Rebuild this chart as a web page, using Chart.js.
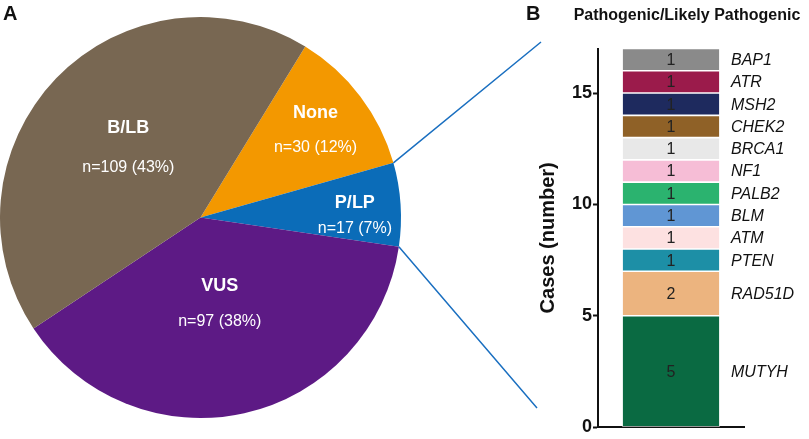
<!DOCTYPE html>
<html>
<head>
<meta charset="utf-8">
<script src="https://cdn.jsdelivr.net/npm/chart.js@4.4.0/dist/chart.umd.min.js"></script>
<style>
  body { margin: 0; background: #fff; font-family: "Liberation Sans", Arial, sans-serif; }
  #wrap { position: relative; width: 809px; height: 439px; overflow: hidden; }
  .box { position: absolute; }
  .letter { position: absolute; font-weight: bold; font-size: 20px; line-height: 1; color: #111; }
  #bar-title { position: absolute; top: 6px; left: 560px; width: 254px; text-align: center;
               font-weight: bold; font-size: 16px; line-height: 18px; color: #111; }
</style>
</head>
<body>
<div id="wrap">
  <div class="box" style="left:0;top:0;width:545px;height:439px;"><canvas id="pie"></canvas></div>
  <div class="box" style="left:530px;top:0;width:279px;height:439px;"><canvas id="bar"></canvas></div>
  <div class="letter" style="left:3px;top:3px;">A</div>
  <div class="letter" style="left:526px;top:3px;">B</div>
  <div id="bar-title">Pathogenic/Likely Pathogenic</div>
</div>
<script>
// Panel A: variant classes
const pie_labels = ['None', 'P/LP', 'VUS', 'B/LB'];
const pie_values = [30, 17, 97, 109];
const pie_colors = ['#f39800', '#0b6cb8', '#5d1a85', '#786752'];

// Panel B: P/LP genes, from bottom to top
const gene_labels = ['MUTYH', 'RAD51D', 'PTEN', 'ATM', 'BLM', 'PALB2', 'NF1', 'BRCA1', 'CHEK2', 'MSH2', 'ATR', 'BAP1'];
const gene_values = [5, 2, 1, 1, 1, 1, 1, 1, 1, 1, 1, 1];
const gene_colors = ['#0a6a42', '#ecb47f', '#1d8fa6', '#fde1e1', '#6096d4', '#2bb36f',
                     '#f6bdd6', '#e8e8e8', '#8f6127', '#1e2a5e', '#9b1b4b', '#8a8a8a'];
const y_ticks = [0, 5, 10, 15];

const pie_total = pie_values.reduce((a, b) => a + b, 0);

// where the text sits inside each slice (fraction of radius, angle shift in degrees, half gap between lines)
const label_radius = [0.72, 0.77, 0.44, 0.5];
const label_shift = [0, 3, 0, 0];
const label_gap = [17, 13, 18, 20];


// Write the labels inside the pie and the two lines to panel B
const pie_text = {
    id: 'pie_text',
    afterDraw(chart) {
        const ctx = chart.ctx;
        const arcs = chart.getDatasetMeta(0).data;

        ctx.save();
        ctx.fillStyle = '#fff';
        ctx.textAlign = 'center';
        ctx.textBaseline = 'middle';

        arcs.forEach((arc, i) => {
            const mid = (arc.startAngle + arc.endAngle) / 2 + label_shift[i] * Math.PI / 180;
            const r = arc.outerRadius * label_radius[i];
            const x = arc.x + Math.cos(mid) * r;
            const y = arc.y + Math.sin(mid) * r;
            const pct = Math.round(pie_values[i] / pie_total * 100);

            ctx.font = 'bold 18px "Liberation Sans", Arial, sans-serif';
            ctx.fillText(pie_labels[i], x, y - label_gap[i]);
            ctx.font = '16px "Liberation Sans", Arial, sans-serif';
            ctx.fillText(`n=${pie_values[i]} (${pct}%)`, x, y + label_gap[i]);
        });

        // Lines from the P/LP slice to the bar
        const plp = arcs[1];
        ctx.strokeStyle = '#1a6fc0';
        ctx.lineWidth = 1.5;
        ctx.beginPath();
        ctx.moveTo(plp.x + Math.cos(plp.startAngle) * plp.outerRadius, plp.y + Math.sin(plp.startAngle) * plp.outerRadius);
        ctx.lineTo(541, 42);
        ctx.moveTo(plp.x + Math.cos(plp.endAngle) * plp.outerRadius, plp.y + Math.sin(plp.endAngle) * plp.outerRadius);
        ctx.lineTo(537, 408);
        ctx.stroke();
        ctx.restore();
    }
};


// Write the counts inside the bar and the gene names next to it
const bar_text = {
    id: 'bar_text',
    afterDatasetsDraw(chart) {
        const ctx = chart.ctx;
        ctx.save();
        ctx.textBaseline = 'middle';

        chart.data.datasets.forEach((ds, i) => {
            const bar = chart.getDatasetMeta(i).data[0];
            const y = (bar.y + bar.base) / 2;

            ctx.fillStyle = '#222';
            ctx.textAlign = 'center';
            ctx.font = '16px "Liberation Sans", Arial, sans-serif';
            ctx.fillText(String(gene_values[i]), bar.x, y + 1);

            ctx.fillStyle = '#111';
            ctx.textAlign = 'left';
            ctx.font = 'italic 16px "Liberation Sans", Arial, sans-serif';
            ctx.fillText(gene_labels[i], 201, y + 1);
        });
        ctx.restore();
    }
};


document.addEventListener('DOMContentLoaded', () => {

    new Chart(document.getElementById('pie'), {
        type: 'pie',
        data: {
            labels: pie_labels,
            datasets: [{
                data: pie_values,
                backgroundColor: pie_colors,
                borderWidth: 0
            }]
        },
        options: {
            responsive: true,
            maintainAspectRatio: false,
            animation: false,
            rotation: 31.5,
            layout: { padding: { left: 0, right: 144, top: 17, bottom: 21 } },
            plugins: {
                legend: { display: false },
                tooltip: { enabled: false }
            }
        },
        plugins: [pie_text]
    });

    const datasets = gene_labels.map((gene, i) => ({
        label: gene,
        data: [gene_values[i]],
        backgroundColor: gene_colors[i],
        borderColor: '#fff',
        borderWidth: 0.8,
        borderSkipped: false,
        barPercentage: 0.67,
        categoryPercentage: 1
    }));

    new Chart(document.getElementById('bar'), {
        type: 'bar',
        data: {
            labels: [''],
            datasets: datasets
        },
        options: {
            responsive: true,
            maintainAspectRatio: false,
            animation: false,
            layout: { padding: { left: 0, right: 65, top: 48.5, bottom: 8 } },
            scales: {
                x: {
                    stacked: true,
                    afterFit: scale => { scale.height = 0; },
                    grid: { display: false },
                    ticks: { display: false },
                    border: { display: true, color: '#111', width: 2 }
                },
                y: {
                    stacked: true,
                    min: 0,
                    max: 17,
                    afterBuildTicks: scale => {
                        scale.ticks = y_ticks.map(v => ({ value: v }));
                    },
                    afterFit: scale => { scale.width = 68; },
                    grid: { drawOnChartArea: false, tickLength: 5, tickColor: '#111', tickWidth: 2 },
                    border: { display: true, color: '#111', width: 2 },
                    ticks: {
                        padding: 1,
                        color: '#111',
                        font: { family: '"Liberation Sans", Arial, sans-serif', size: 18, weight: 'bold' }
                    },
                    title: {
                        display: true,
                        text: 'Cases (number)',
                        color: '#111',
                        padding: { top: 6, bottom: 0 },
                        font: { family: '"Liberation Sans", Arial, sans-serif', size: 20, weight: 'bold' }
                    }
                }
            },
            plugins: {
                legend: { display: false },
                tooltip: { enabled: false }
            }
        },
        plugins: [bar_text]
    });
});
</script>
</body>
</html>
